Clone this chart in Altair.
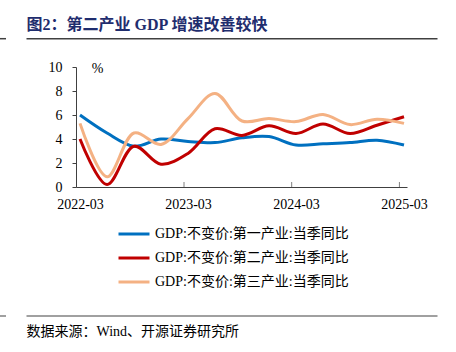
import altair as alt
import pandas as pd

quarters = ["2022-03", "2022-06", "2022-09", "2022-12", "2023-03", "2023-06", "2023-09",
            "2023-12", "2024-03", "2024-06", "2024-09", "2024-12", "2025-03"]
names = ["GDP:不变价:第一产业:当季同比", "GDP:不变价:第二产业:当季同比", "GDP:不变价:第三产业:当季同比"]
primary = [6.0, 4.5, 3.4, 4.0, 3.8, 3.7, 4.1, 4.2, 3.5, 3.6, 3.7, 3.9, 3.5]
secondary = [4.0, 0.2, 3.4, 1.9, 2.8, 4.85, 4.3, 5.1, 4.45, 5.25, 4.45, 5.15, 5.85]
tertiary = [5.3, 0.85, 4.5, 3.55, 5.7, 7.8, 5.5, 5.7, 5.45, 6.05, 5.2, 5.65, 5.3]
colors = ["#0070C0", "#C00000", "#F4B183"]
xlabels = ["2022-03", "2023-03", "2024-03", "2025-03"]
xlabel_idx = [0, 4, 8, 12]
xtick_idx = [3.852, 7.84, 11.83]
title_text = "图2：第二产业 GDP 增速改善较快"
source_text = "数据来源：Wind、开源证券研究所"

rows = []
for name, vals in zip(names, [primary, secondary, tertiary]):
    for i, (q, v) in enumerate(zip(quarters, vals)):
        rows.append({"idx": i, "quarter": q, "series": name, "value": v})
df = pd.DataFrame(rows)

SERIF = "Liberation Serif, Noto Sans CJK SC"
W, H = 331, 120

label_expr = "[" + ",".join("'%s'" % s for s in xlabels) + "][round(datum.value/4)]"

lines = alt.Chart(df).mark_line(strokeWidth=3, interpolate="catmull-rom").encode(
    x=alt.X("idx:Q", scale=alt.Scale(domain=[-0.148, 12.111], nice=False, zero=False),
            axis=alt.Axis(values=xlabel_idx, labelExpr=label_expr, title=None, grid=False,
                          ticks=False, tickSize=0, labelPadding=10, labelFont=SERIF,
                          labelFontSize=14, labelColor="#000000", domainColor="#404040",
                          domainWidth=1)),
    y=alt.Y("value:Q", scale=alt.Scale(domain=[0, 10], nice=False),
            axis=alt.Axis(values=[0, 2, 4, 6, 8, 10], title="%", titleAngle=0, titleX=21,
                          titleY=1, titleAlign="center", titleBaseline="middle",
                          titleFont=SERIF, titleFontSize=14, titleFontWeight="normal",
                          titleColor="#000000", grid=False, tickSize=4, labelPadding=10,
                          labelFont=SERIF, labelFontSize=14, labelColor="#000000",
                          domainColor="#404040", tickColor="#404040")),
    color=alt.Color("series:N", sort=names,
                    scale=alt.Scale(domain=names, range=colors),
                    legend=alt.Legend(title=None, orient="none", legendX=41, legendY=150,
                                      symbolType="stroke", symbolSize=961,
                                      symbolStrokeWidth=3, rowPadding=-3.5, padding=0,
                                      labelOffset=4, labelFont=SERIF, labelFontSize=14,
                                      labelColor="#000000", labelLimit=400)),
)

ticks_df = pd.DataFrame({"idx": xtick_idx})
xticks = alt.Chart(ticks_df).mark_rule(color="#808080", strokeWidth=1).encode(
    x="idx:Q", y=alt.value(H), y2=alt.value(H - 5)
)

title = alt.Chart(pd.DataFrame({"t": [title_text]})).mark_text(
    align="left", baseline="alphabetic", font="Liberation Serif, Noto Sans CJK SC",
    fontSize=16, fontWeight="bold", color="#1F2D6E"
).encode(x=alt.value(-49.5), y=alt.value(-37.5), text="t:N")

source = alt.Chart(pd.DataFrame({"t": [source_text]})).mark_text(
    align="left", baseline="alphabetic", font=SERIF, fontSize=14, color="#000000"
).encode(x=alt.value(-49.5), y=alt.value(268.5), text="t:N")

deco = pd.DataFrame({"a": [0]})
top_rule = alt.Chart(deco).mark_rule(color="#404040", strokeWidth=1.5).encode(
    x=alt.value(-49.5), x2=alt.value(361.5), y=alt.value(-28.3))
top_rule2 = alt.Chart(deco).mark_rule(color="#404040", strokeWidth=1.5).encode(
    x=alt.value(-76), x2=alt.value(-70), y=alt.value(-28.3))
bot_rule = alt.Chart(deco).mark_rule(color="#808080", strokeWidth=1.5).encode(
    x=alt.value(-49.5), x2=alt.value(361.5), y=alt.value(249))
bot_rule2 = alt.Chart(deco).mark_rule(color="#808080", strokeWidth=1.5).encode(
    x=alt.value(-76), x2=alt.value(-70), y=alt.value(249))

chart = alt.layer(lines, xticks, title, source, top_rule, top_rule2, bot_rule, bot_rule2).properties(
    width=W, height=H,
    autosize=alt.AutoSizeParams(type="none"),
    padding={"left": 76, "top": 67, "right": 49, "bottom": 165},
    background="white",
).configure_view(stroke=None)

chart.save("out.html", embed_options={"renderer": "svg", "actions": False})
